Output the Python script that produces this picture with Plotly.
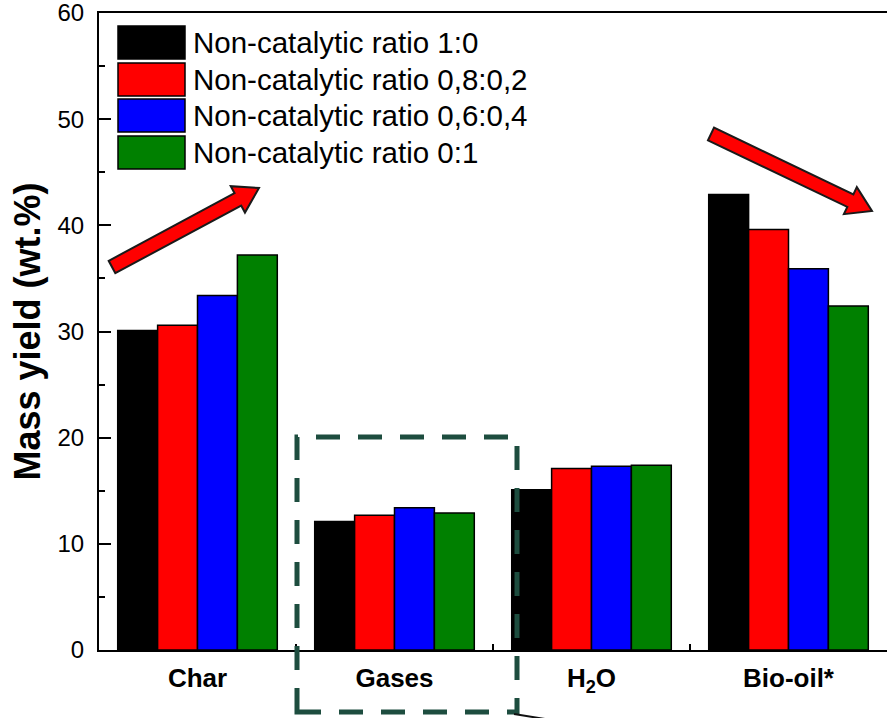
import plotly.graph_objects as go
import math

categories = ["Char", "Gases", "H<sub>2</sub>O", "Bio-oil*"]
series_names = ["Non-catalytic ratio 1:0", "Non-catalytic ratio 0,8:0,2",
                "Non-catalytic ratio 0,6:0,4", "Non-catalytic ratio 0:1"]
ratio_1_0 = [30.1, 12.1, 15.1, 42.9]
ratio_08_02 = [30.6, 12.7, 17.1, 39.6]
ratio_06_04 = [33.4, 13.4, 17.3, 35.9]
ratio_0_1 = [37.2, 12.9, 17.4, 32.4]
y_ticks = [0, 10, 20, 30, 40, 50, 60]

values = [ratio_1_0, ratio_08_02, ratio_06_04, ratio_0_1]
colors = ["#000000", "#ff0000", "#0000ff", "#008000"]

W, H = 887, 718
L, R, T, B = 99, 887, 13, 650
FONT = "Arial, Liberation Sans, sans-serif"

def px(x):
    return (x - L) / (R - L)

def py(y):
    return (B - y) / (B - T)

fig = go.Figure()
for name, vals, c in zip(series_names, values, colors):
    fig.add_trace(go.Bar(x=categories, y=vals, name=name,
                         marker=dict(color=c, line=dict(color="black", width=1.5)),
                         showlegend=False))

shapes = []
annotations = []

# manual legend
box_tops = [26, 63, 99, 136]
for i, (name, c) in enumerate(zip(series_names, colors)):
    t = box_tops[i]
    b = t + 33
    shapes.append(dict(type="rect", xref="paper", yref="paper",
                       x0=px(118), x1=px(185), y0=py(b), y1=py(t),
                       fillcolor=c, line=dict(color="black", width=1.5)))
    annotations.append(dict(xref="paper", yref="paper", x=px(191), y=py((t + b) / 2),
                            text=name, showarrow=False, xanchor="left", yanchor="middle",
                            font=dict(family=FONT, size=29.5, color="black")))

def arrow(tail, tip, shaft_hw=7, head_hw=15, head_len=24):
    dx, dy = tip[0] - tail[0], tip[1] - tail[1]
    ln = math.hypot(dx, dy)
    ux, uy = dx / ln, dy / ln
    nx, ny = -uy, ux
    bx, by = tip[0] - ux * head_len, tip[1] - uy * head_len
    pts = [
        (tail[0] + nx * shaft_hw, tail[1] + ny * shaft_hw),
        (bx + nx * shaft_hw, by + ny * shaft_hw),
        (bx + nx * head_hw, by + ny * head_hw),
        tip,
        (bx - nx * head_hw, by - ny * head_hw),
        (bx - nx * shaft_hw, by - ny * shaft_hw),
        (tail[0] - nx * shaft_hw, tail[1] - ny * shaft_hw),
    ]
    path = "M " + " L ".join(f"{px(x):.5f},{py(y):.5f}" for x, y in pts) + " Z"
    return dict(type="path", xref="paper", yref="paper", path=path,
                fillcolor="#ff0000", line=dict(color="#1a1a1a", width=2), layer="above")

shapes.append(arrow((112, 267), (259, 188)))
shapes.append(arrow((711, 134), (872, 211)))

# dashed highlight box
shapes.append(dict(type="rect", xref="paper", yref="paper",
                   x0=px(297), x1=px(517), y0=py(712), y1=py(437),
                   line=dict(color="#1d4d3f", width=5, dash="24px,18px"),
                   fillcolor="rgba(0,0,0,0)", layer="above"))
shapes.append(dict(type="line", xref="paper", yref="paper",
                   x0=px(514), x1=px(545), y0=py(714), y1=py(719),
                   line=dict(color="#111111", width=2), layer="above"))

fig.update_layout(
    width=W, height=H,
    margin=dict(l=L, r=W - R, t=T, b=H - B, pad=0),
    paper_bgcolor="white", plot_bgcolor="white",
    barmode="group", bargap=0.19, bargroupgap=0,
    shapes=shapes, annotations=annotations,
    font=dict(family=FONT, color="black"),
    yaxis=dict(range=[0, 60], tickvals=y_ticks, ticks="inside", ticklen=12, tickwidth=2,
               tickcolor="black", showline=True, linewidth=2, linecolor="black",
               showgrid=False, zeroline=False, tickfont=dict(size=24, family=FONT),
               ticklabelstandoff=8, ticklabeloverflow="allow",
               minor=dict(dtick=5, ticks="inside", ticklen=6, tickwidth=2, tickcolor="black"),
               title=dict(text="Mass yield (wt.%)", standoff=6,
                          font=dict(size=36, family=FONT, weight="bold"))),
    xaxis=dict(range=[-0.5, 3.5], showline=True, linewidth=2, linecolor="black", mirror=True,
               ticks="inside", tickson="boundaries", ticklen=6, tickwidth=2, tickcolor="black",
               showgrid=False, tickfont=dict(size=26, family=FONT, weight="bold"),
               ticklabelstandoff=4, ticklabeloverflow="allow"),
)

fig.write_html("out.html", config={"displayModeBar": False},
               post_script="document.body.style.margin='0';")
